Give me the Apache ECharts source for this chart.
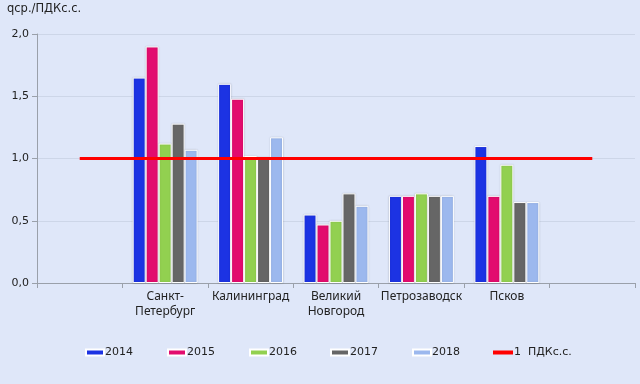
<!DOCTYPE html>
<html><head><meta charset="utf-8">
<script src="https://cdn.jsdelivr.net/npm/echarts@6/dist/echarts.min.js"></script>
<style>html,body{margin:0;padding:0;background:#dfe7f9}#c{width:640px;height:384px}</style>
</head><body><div id="c"></div>
<script>
const categories = ['', 'Санкт-\nПетербург', 'Калининград', 'Великий\nНовгород', 'Петрозаводск', 'Псков', ''];
const years = ['2014', '2015', '2016', '2017', '2018'];
const v2014 = [null, 1.65, 1.60, 0.55, 0.70, 1.10, null];
const v2015 = [null, 1.90, 1.48, 0.47, 0.70, 0.70, null];
const v2016 = [null, 1.12, 1.02, 0.50, 0.72, 0.95, null];
const v2017 = [null, 1.28, 1.01, 0.72, 0.70, 0.65, null];
const v2018 = [null, 1.07, 1.17, 0.62, 0.70, 0.65, null];
const pdk = [1, 1, 1, 1, 1, 1, 1];
const pdkName = '1  ПДКс.с.';
const yTicks = [0, 0.5, 1.0, 1.5, 2.0];

const colors = ['#1c33e3', '#e20c6e', '#92d050', '#666666', '#9cb8ee'];
const vals = [v2014, v2015, v2016, v2017, v2018];
const font = 'DejaVu Sans';

const series = years.map((y, i) => ({
  name: y, type: 'bar', data: vals[i], barGap: '0%', barCategoryGap: '24%',
  itemStyle: { color: colors[i], borderColor: '#ffffff', borderWidth: 1,
    shadowBlur: 2, shadowColor: 'rgba(0,0,0,0.15)', shadowOffsetX: 0, shadowOffsetY: 0 }
}));
series.push({
  name: pdkName, type: 'line', data: pdk, symbol: 'none', z: 5,
  lineStyle: { color: '#ff0000', width: 3 }, itemStyle: { color: '#ff0000' }
});

const legendLefts = [85, 167, 249, 330, 412, 493];
const legendNames = years.concat([pdkName]);
const legends = legendNames.map((n, i) => ({
  data: [n], left: legendLefts[i], top: 347, padding: 0, itemWidth: i === 5 ? 20 : 18,
  itemHeight: i === 5 ? 4 : 6, icon: 'rect',
  textStyle: { fontFamily: font, fontSize: 11, color: '#222', padding: [0, 0, 0, -4] }
}));

const chart = echarts.init(document.getElementById('c'));
chart.setOption({
  backgroundColor: '#dfe7f9',
  animation: false,
  title: { text: 'qср./ПДКс.с.', left: 7, top: 3, padding: 0,
    textStyle: { fontFamily: font, fontSize: 11.5, fontWeight: 'normal', color: '#222' } },
  legend: legends,
  grid: { left: 37, right: 5, top: 34, bottom: 101, containLabel: false },
  xAxis: {
    type: 'category', data: categories, boundaryGap: true,
    axisLine: { lineStyle: { color: '#9aa0aa' } },
    axisTick: { show: true, length: 5, lineStyle: { color: '#9aa0aa' } },
    axisLabel: { fontFamily: 'Noto Sans', fontSize: 12, color: '#222', margin: 6, lineHeight: 15, interval: 0 }
  },
  yAxis: {
    type: 'value', min: yTicks[0], max: yTicks[yTicks.length - 1], interval: 0.5,
    axisLine: { show: true, lineStyle: { color: '#9aa0aa' } },
    axisTick: { show: true, length: 5, lineStyle: { color: '#9aa0aa' } },
    axisLabel: { fontFamily: font, fontSize: 11, color: '#222', margin: 8,
      formatter: v => v.toFixed(1).replace('.', ',') },
    splitLine: { show: true, lineStyle: { color: '#cdd6e8' } }
  },
  series: series
});
</script></body></html>
